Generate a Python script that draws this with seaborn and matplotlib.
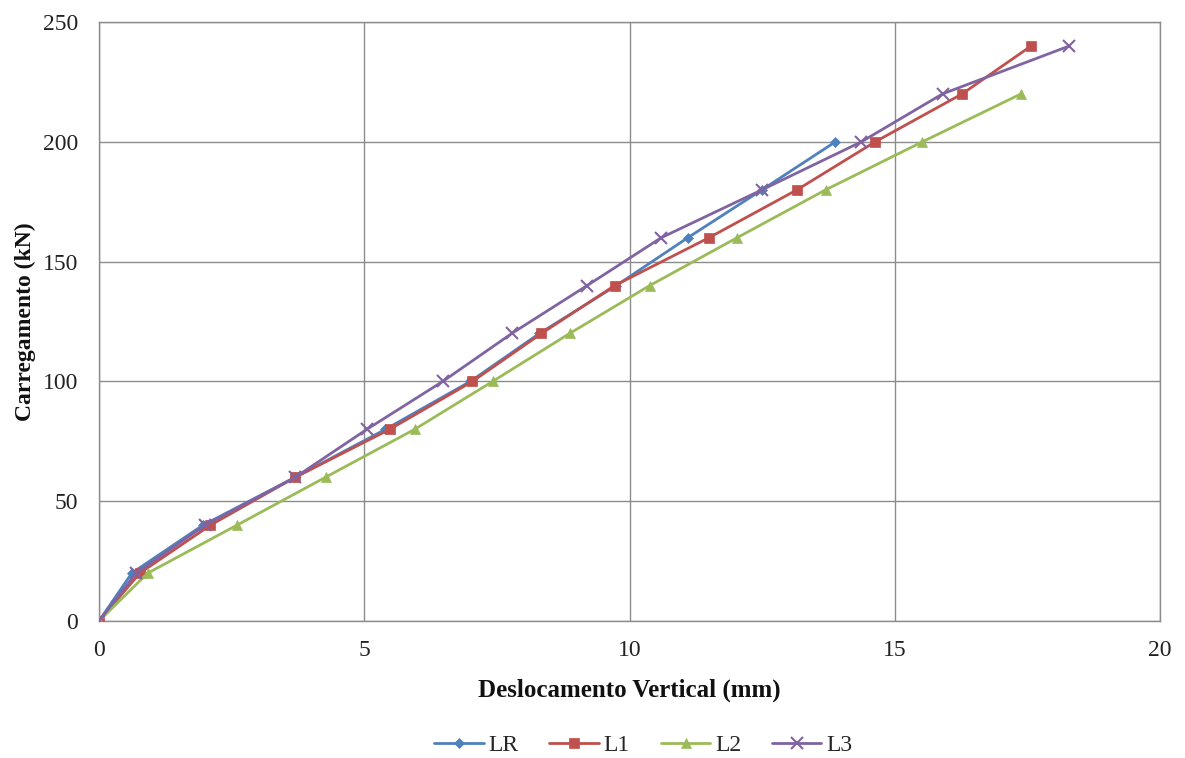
import numpy as np
import pandas as pd
import matplotlib
matplotlib.use("Agg")
import matplotlib.pyplot as plt
import seaborn as sns

# Load steps (kN) and measured vertical displacement (mm) per specimen
load_lr = [0, 20, 40, 60, 80, 100, 120, 140, 160, 180, 200]
disp_lr = [0, 0.62, 1.96, 3.70, 5.40, 7.00, 8.30, 9.75, 11.10, 12.50, 13.88]

load_l1 = [0, 20, 40, 60, 80, 100, 120, 140, 160, 180, 200, 220, 240]
disp_l1 = [0, 0.77, 2.10, 3.70, 5.48, 7.04, 8.34, 9.72, 11.50, 13.16, 14.63, 16.27, 17.57]

load_l2 = [0, 20, 40, 60, 80, 100, 120, 140, 160, 180, 200, 220]
disp_l2 = [0, 0.92, 2.60, 4.27, 5.95, 7.42, 8.87, 10.38, 12.03, 13.70, 15.52, 17.38]

load_l3 = [0, 20, 40, 60, 80, 100, 120, 140, 160, 180, 200, 220, 240]
disp_l3 = [0, 0.70, 2.00, 3.70, 5.05, 6.48, 7.78, 9.20, 10.60, 12.50, 14.37, 15.90, 18.29]

series_names = ["LR", "L1", "L2", "L3"]
series_colors = ["#4F81BD", "#C0504D", "#9BBB59", "#8064A2"]
series_markers = ["D", "s", "^", "x"]
series_sizes = [5.5, 7.5, 7.5, 8.5]

frames = []
for name, d, p in zip(series_names, [disp_lr, disp_l1, disp_l2, disp_l3],
                      [load_lr, load_l1, load_l2, load_l3]):
    frames.append(pd.DataFrame({"disp": d, "load": p, "serie": name}))
df = pd.concat(frames, ignore_index=True)

sns.set_theme(style="white")
plt.rcParams["font.family"] = ["Liberation Serif", "DejaVu Serif"]

fig = plt.figure(figsize=(11.85, 7.58), dpi=100)
ax = fig.add_axes([0.0835, 0.1807, 0.8955, 0.7903])

for name, color, marker, ms in zip(series_names, series_colors, series_markers, series_sizes):
    sub = df[df["serie"] == name]
    sns.lineplot(data=sub, x="disp", y="load", ax=ax, color=color, sort=False,
                 linewidth=2.0, marker=marker, markersize=ms,
                 markeredgecolor=color, markerfacecolor=color,
                 markeredgewidth=1.5 if marker == "x" else 0.5,
                 label=name, zorder=3)

ax.set_xlim(0, 20)
ax.set_ylim(0, 250)
ax.set_xticks(np.arange(0, 21, 5))
ax.set_yticks(np.arange(0, 251, 50))
ax.grid(True, color="#8C8C8C", linewidth=1.0)
ax.set_axisbelow(True)
for sp in ax.spines.values():
    sp.set_color("#8C8C8C")
    sp.set_linewidth(1.0)
ax.tick_params(axis="both", length=0, labelsize=17, colors="#222222")
ax.tick_params(axis="y", pad=15)
ax.tick_params(axis="x", pad=14)

ax.set_xlabel("Deslocamento Vertical (mm)", fontsize=18, fontweight="bold",
              color="#111111", labelpad=12)
ax.set_ylabel("Carregamento (kN)", fontsize=17, fontweight="bold",
              color="#111111", labelpad=5)

handles, labels = ax.get_legend_handles_labels()
ax.legend(handles, labels, loc="upper center", bbox_to_anchor=(0.513, -0.154),
          ncol=4, frameon=False, fontsize=17, handlelength=2.1,
          columnspacing=1.3, handletextpad=0.2)

fig.savefig("out.png", dpi=100, facecolor="white")
